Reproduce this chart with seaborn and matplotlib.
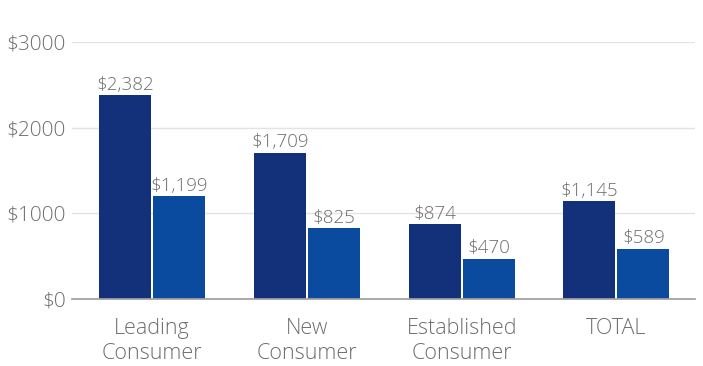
import matplotlib
matplotlib.use("Agg")
import matplotlib.pyplot as plt
import seaborn as sns
import pandas as pd

categories = ["Leading\nConsumer", "New\nConsumer", "Established\nConsumer", "TOTAL"]
series_a = [2382, 1709, 874, 1145]
series_b = [1199, 825, 470, 589]
series_names = ["A", "B"]
yticks = [0, 1000, 2000, 3000]
ytick_labels = ["$0", "$1000", "$2000", "$3000"]

df = pd.DataFrame({
    "cat": categories * 2,
    "val": series_a + series_b,
    "series": [series_names[0]] * 4 + [series_names[1]] * 4,
})

sns.set_theme(style="white")
plt.rcParams["font.family"] = ["Open Sans", "DejaVu Sans"]
grey = "#6e6e6e"

fig = plt.figure(figsize=(7.03, 3.66), dpi=100)
ax = fig.add_axes([0.102, 0.183, 0.887, 0.702])
sns.barplot(data=df, x="cat", y="val", hue="series", order=categories,
            palette=["#12317a", "#0a4a9f"], width=0.7, gap=0.04,
            saturation=1, legend=False, ax=ax, linewidth=0)

for cont in ax.containers:
    ax.bar_label(cont, labels=[f"${v:,.0f}" for v in cont.datavalues],
                 color=grey, fontsize=13.5, fontweight="light", padding=1)

ax.set_ylim(0, 3000)
ax.set_xlim(-0.52, 3.51)
ax.set_yticks(yticks)
ax.set_yticklabels(ytick_labels)
ax.yaxis.grid(True, color="#e3e3e3", linewidth=1)
ax.set_axisbelow(True)
for s in ["top", "right", "left"]:
    ax.spines[s].set_visible(False)
ax.spines["bottom"].set_color("#a0a0a0")
ax.tick_params(axis="y", length=0, labelsize=15, labelcolor=grey, pad=4)
ax.tick_params(axis="x", length=0, labelsize=15.5, labelcolor=grey, pad=14)
for t in ax.get_yticklabels() + ax.get_xticklabels():
    t.set_fontweight("light")
    t.set_linespacing(1.2)
ax.set_xlabel("")
ax.set_ylabel("")
fig.savefig("out.png", dpi=100)
